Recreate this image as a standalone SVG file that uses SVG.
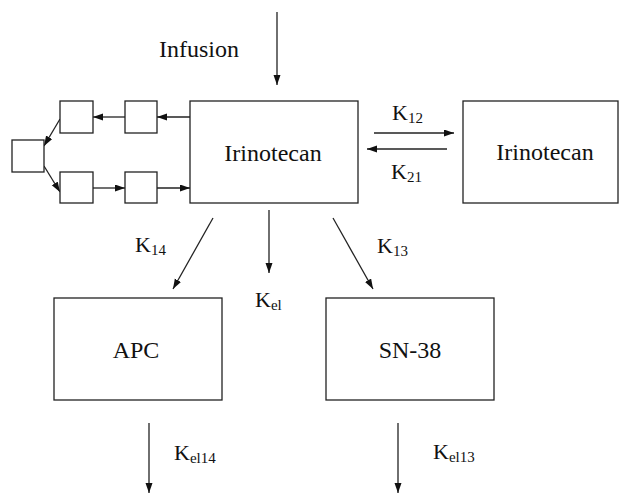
<svg xmlns="http://www.w3.org/2000/svg" width="621" height="493" viewBox="0 0 621 493">
<style>
.box{fill:#fff;stroke:#222;stroke-width:1.3}
.t{font-family:"Liberation Serif","Times New Roman",serif;font-size:24px;fill:#111}
.k{font-family:"Liberation Serif","Times New Roman",serif;font-size:22px;fill:#111}
.s{font-size:15px}
.c{stroke:#222;stroke-width:1.3;fill:none;marker-end:url(#ah)}
</style>
<defs>
<marker id="ah" markerUnits="userSpaceOnUse" markerWidth="10" markerHeight="8" refX="10" refY="3.5" orient="auto">
<path d="M0,0 L10,3.5 L0,7 z" fill="#111"/>
</marker>
</defs>
<rect width="621" height="493" fill="#fff"/>
<g id="connectors">
<line class="c" x1="277" y1="12" x2="277" y2="85"/>
<line class="c" x1="374" y1="133" x2="454" y2="133"/>
<line class="c" x1="447" y1="149" x2="367" y2="149"/>
<line class="c" x1="190" y1="117" x2="157" y2="117"/>
<line class="c" x1="125" y1="117" x2="93" y2="117"/>
<line class="c" x1="93" y1="188" x2="125" y2="188"/>
<line class="c" x1="157" y1="188" x2="190" y2="188"/>
<line class="c" x1="60" y1="119" x2="44" y2="146"/>
<line class="c" x1="44" y1="166" x2="60" y2="192"/>
<line class="c" x1="213" y1="218" x2="173" y2="289"/>
<line class="c" x1="269" y1="210" x2="269" y2="273"/>
<line class="c" x1="333" y1="218" x2="373" y2="289"/>
<line class="c" x1="149" y1="423" x2="149" y2="493"/>
<line class="c" x1="398" y1="423" x2="398" y2="493"/>
</g>
<g id="sb1"><rect class="box" x="60" y="101" width="33" height="32"/></g>
<g id="sb2"><rect class="box" x="125" y="101" width="32" height="32"/></g>
<g id="sb3"><rect class="box" x="12" y="140" width="32" height="32"/></g>
<g id="sb4"><rect class="box" x="60" y="172" width="33" height="31"/></g>
<g id="sb5"><rect class="box" x="125" y="172" width="32" height="31"/></g>
<g id="irinotecan-central"><rect class="box" x="190" y="101" width="168" height="102"/><text class="t" x="273" y="161" text-anchor="middle">Irinotecan</text></g>
<g id="irinotecan-peripheral"><rect class="box" x="463" y="101" width="155" height="102"/><text class="t" x="545" y="160" text-anchor="middle">Irinotecan</text></g>
<g id="apc"><rect class="box" x="54" y="298" width="168" height="102"/><text class="t" x="136" y="358" text-anchor="middle">APC</text></g>
<g id="sn38"><rect class="box" x="326" y="298" width="168" height="102"/><text class="t" x="410" y="358" text-anchor="middle">SN-38</text></g>
<g id="labels">
<text class="t" x="159" y="57">Infusion</text>
<text class="k" x="392" y="120">K<tspan class="s" dy="3">12</tspan></text>
<text class="k" x="391" y="179">K<tspan class="s" dy="3">21</tspan></text>
<text class="k" x="135" y="252">K<tspan class="s" dy="3">14</tspan></text>
<text class="k" x="377" y="253">K<tspan class="s" dy="3">13</tspan></text>
<text class="k" x="255" y="307">K<tspan class="s" dy="3">el</tspan></text>
<text class="k" x="174" y="460">K<tspan class="s" dy="3">el14</tspan></text>
<text class="k" x="433" y="459">K<tspan class="s" dy="3">el13</tspan></text>
</g>
</svg>
